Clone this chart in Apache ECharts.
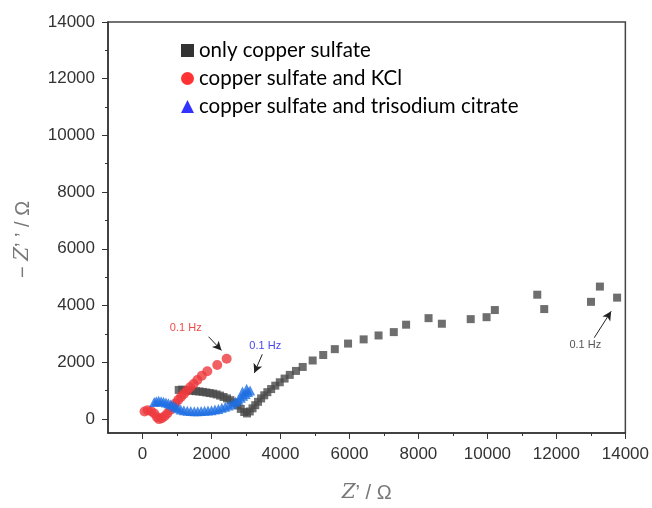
<!DOCTYPE html>
<html>
<head>
    <meta charset="utf-8">
    <title>Nyquist plot</title>
    <script src="https://cdn.jsdelivr.net/npm/echarts@6/dist/echarts.min.js"></script>
    <style>
        body, html {
            margin: 0;
            background: #fff;
        }
        #main {
            width: 652px;
            height: 508px;
        }
    </style>
</head>
<body>
<div id="main"></div>
<script type="text/javascript">
    // Z' and -Z'' values (ohm)
    var onlyCuSO4 = [
        [1050, 1020], [1150, 1030], [1250, 1010], [1350, 1000], [1450, 990], [1550, 975],
        [1650, 965], [1750, 950], [1850, 930], [1950, 910], [2050, 890], [2150, 860],
        [2250, 820], [2350, 770], [2450, 720], [2550, 660], [2650, 580], [2750, 470],
        [2850, 350], [2950, 240], [3030, 190], [3110, 260], [3190, 370], [3270, 480],
        [3350, 600], [3440, 720], [3530, 830], [3620, 940], [3730, 1050], [3850, 1170],
        [3980, 1290], [4120, 1420], [4270, 1550], [4450, 1690], [4645, 1830], [4934, 2058],
        [5240, 2252], [5576, 2459], [5960, 2655], [6412, 2803], [6844, 2941], [7286, 3059],
        [7643, 3321], [8294, 3552], [8680, 3355], [9516, 3517], [9976, 3586], [10216, 3838],
        [11446, 4379], [11648, 3872], [13003, 4127], [13262, 4666], [13761, 4276]
    ];
    var withKCl = [
        [60, 260], [150, 300], [250, 270], [340, 190], [420, 60], [480, -10], [560, 20],
        [640, 90], [720, 190], [800, 310], [880, 430], [960, 550], [1040, 670], [1120, 780],
        [1200, 880], [1290, 990], [1380, 1110], [1480, 1230], [1590, 1369], [1720, 1520],
        [1879, 1680], [2167, 1900], [2440, 2120]
    ];
    var withCitrate = [
        [340, 590], [400, 620], [470, 640], [540, 620], [610, 600], [680, 580], [750, 550],
        [820, 510], [890, 470], [960, 420], [1030, 370], [1110, 330], [1200, 300], [1300, 285],
        [1400, 275], [1500, 270], [1600, 270], [1700, 275], [1800, 285], [1900, 295],
        [2000, 305], [2100, 325], [2200, 350], [2300, 390], [2400, 430], [2500, 470],
        [2600, 530], [2700, 600], [2780, 670], [2850, 740], [2900, 960], [2920, 810],
        [2990, 880], [3020, 1060], [3060, 950], [3120, 1000]
    ];

    var majorTicks = [0, 2000, 4000, 6000, 8000, 10000, 12000, 14000];
    var minorTicks = [1000, 3000, 5000, 7000, 9000, 11000, 13000];

    // "0.1 Hz" notes: label position, arrow start, arrow end
    var noteKCl = {label: [1254, 3207], from: [1916, 2897], to: [2291, 2414]};
    var noteCitrate = {label: [3559, 2586], from: [3473, 2276], to: [3242, 1621]};
    var noteCuSO4 = {label: [12839, 2621], from: [13098, 2862], to: [13588, 3793]};

    var myChart = echarts.init(document.getElementById('main'));

    var labelFont = {
        fontFamily: '"Liberation Sans", Arial, sans-serif',
        fontSize: 17,
        color: '#333'
    };

    function note(n, color) {
        return {
            markPoint: {
                symbol: 'circle',
                symbolSize: 0,
                silent: true,
                data: [{coord: n.label}],
                label: {
                    show: true,
                    position: 'inside',
                    formatter: '0.1 Hz',
                    color: color,
                    fontSize: 11,
                    fontFamily: '"Liberation Sans", Arial, sans-serif'
                }
            },
            markLine: {
                silent: true,
                animation: false,
                symbol: ['none', 'arrow'],
                symbolSize: [7, 9],
                label: {show: false},
                lineStyle: {color: '#222', width: 1, type: 'solid'},
                data: [[{coord: n.from}, {coord: n.to}]]
            }
        };
    }

    var nameStyle = {
        color: '#777',
        rich: {
            i: {fontFamily: '"DejaVu Serif", serif', fontStyle: 'italic', fontSize: 20, color: '#777'},
            n: {fontFamily: '"Liberation Sans", Arial, sans-serif', fontSize: 20, color: '#777'}
        }
    };

    function plain(v) {
        return String(v);
    }

    var option = {
        backgroundColor: '#fff',
        animation: false,
        grid: {
            left: 108,
            right: 24,
            top: 22,
            bottom: 66,
            show: true,
            borderColor: '#444',
            borderWidth: 1.5
        },
        legend: {
            orient: 'vertical',
            left: 176,
            top: 35,
            itemGap: 7,
            itemWidth: 13,
            itemHeight: 13,
            textStyle: {
                fontFamily: 'Lato, "Open Sans", sans-serif',
                fontSize: 20.5,
                lineHeight: 20,
                color: '#000'
            },
            data: [
                {name: 'only copper sulfate', icon: 'rect', itemStyle: {color: '#000'}},
                {name: 'copper sulfate and KCl', icon: 'circle', itemStyle: {color: '#ff0000'}},
                {name: 'copper sulfate and trisodium citrate', icon: 'triangle', itemStyle: {color: '#0000ff'}}
            ]
        },
        xAxis: [
            {
                type: 'value',
                min: -1000,
                max: 14000,
                interval: 1000,
                name: '{i|Z}{n|’ / Ω}',
                nameLocation: 'middle',
                nameGap: 50,
                nameTextStyle: nameStyle,
                splitLine: {show: false},
                axisLine: {show: true, onZero: false, lineStyle: {color: '#333', width: 1.5}},
                axisTick: {show: true, customValues: majorTicks, length: 6, lineStyle: {color: '#333'}},
                axisLabel: Object.assign({customValues: majorTicks, margin: 13, formatter: plain}, labelFont)
            },
            {
                type: 'value',
                min: -1000,
                max: 14000,
                interval: 1000,
                position: 'bottom',
                splitLine: {show: false},
                axisLine: {show: false, onZero: false},
                axisTick: {show: true, customValues: minorTicks, length: 3, lineStyle: {color: '#333'}},
                axisLabel: {show: false}
            }
        ],
        yAxis: [
            {
                type: 'value',
                min: -500,
                max: 14000,
                interval: 1000,
                name: '{n|− }{i|Z}{n|’ ’ / Ω}',
                nameLocation: 'middle',
                nameRotate: 90,
                nameGap: 75,
                nameTextStyle: Object.assign({padding: [0, 0, 0, -24]}, nameStyle),
                splitLine: {show: false},
                axisLine: {show: true, onZero: false, lineStyle: {color: '#333', width: 1.5}},
                axisTick: {show: true, customValues: majorTicks, length: 6, lineStyle: {color: '#333'}},
                axisLabel: Object.assign({customValues: majorTicks, margin: 13, formatter: plain}, labelFont)
            },
            {
                type: 'value',
                min: -500,
                max: 14000,
                interval: 1000,
                position: 'left',
                splitLine: {show: false},
                axisLine: {show: false, onZero: false},
                axisTick: {show: true, customValues: minorTicks, length: 3, lineStyle: {color: '#333'}},
                axisLabel: {show: false}
            }
        ],
        series: [
            Object.assign({
                name: 'only copper sulfate',
                type: 'scatter',
                symbol: 'rect',
                symbolSize: 8,
                itemStyle: {color: '#4a4a4a'},
                data: onlyCuSO4
            }, note(noteCuSO4, '#555')),
            Object.assign({
                name: 'copper sulfate and KCl',
                type: 'scatter',
                symbol: 'circle',
                symbolSize: 10,
                itemStyle: {color: '#ee3a3d'},
                data: withKCl
            }, note(noteKCl, '#ef4a4a')),
            Object.assign({
                name: 'copper sulfate and trisodium citrate',
                type: 'scatter',
                symbol: 'triangle',
                symbolSize: 10,
                itemStyle: {color: '#1f6fe3'},
                data: withCitrate
            }, note(noteCitrate, '#4646f0'))
        ]
    };

    myChart.setOption(option);
</script>
</body>
</html>
